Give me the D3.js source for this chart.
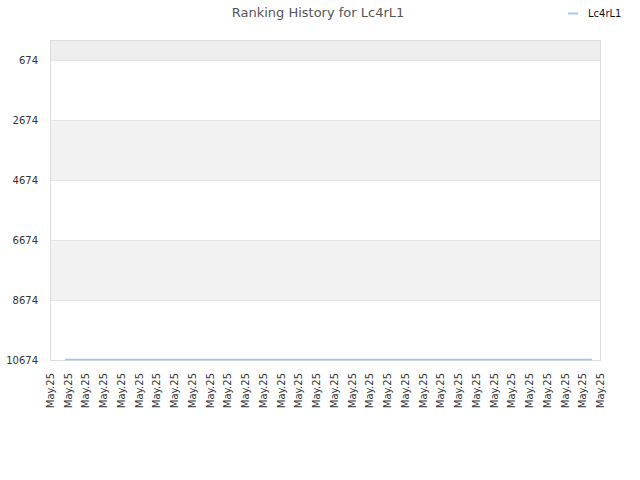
<!DOCTYPE html>
<html><head><meta charset="utf-8">
<script src="https://cdn.jsdelivr.net/npm/d3@7"></script>
<style>body{margin:0;background:#fff}svg{display:block}text{font-family:"DejaVu Sans",sans-serif}</style>
</head><body><svg id="c" width="640" height="480"></svg>
<script>
const title = "Ranking History for Lc4rL1";
const seriesName = "Lc4rL1";
const xLabels = Array.from({length: 32}, () => "May.25");
const yTicks = [674, 2674, 4674, 6674, 8674, 10674];
const pointPos = [0.85, 5, 10, 15, 20, 25, 30.55];
const pointRank = [10674, 10674, 10674, 10674, 10674, 10674, 10674];

const svg = d3.select("#c");
const L = 50, R = 600, T = 40, B = 360;
const x = d3.scaleLinear().domain([0, xLabels.length - 1]).range([L, R]);
const y = d3.scaleLinear().domain([7, 10674]).range([T, B]);

// background bands
const edges = [y.domain()[0], ...yTicks];
for (let i = 0; i < edges.length - 1; i++) {
  const fill = i === 0 ? "#eeeeee" : (i % 2 === 0 ? "#f2f2f2" : "#ffffff");
  svg.append("rect").attr("x", L).attr("y", y(edges[i])).attr("width", R - L)
    .attr("height", y(edges[i + 1]) - y(edges[i])).attr("fill", fill);
}
// grid lines
svg.append("g").selectAll("line").data(yTicks).join("line")
  .attr("x1", L).attr("x2", R).attr("y1", d => y(d) + 0.5).attr("y2", d => y(d) + 0.5)
  .attr("stroke", "#e4e4e4");
// frame
svg.append("rect").attr("x", L + 0.5).attr("y", T + 0.5).attr("width", R - L).attr("height", B - T)
  .attr("fill", "none").attr("stroke", "#dddddd");

// y axis labels
const yAxis = d3.axisLeft(y).tickValues(yTicks).tickSize(0).tickPadding(12).tickFormat(d => d);
const ga = svg.append("g").attr("transform", `translate(${L},0)`).call(yAxis);
ga.select(".domain").remove();
ga.selectAll("text").attr("font-size", 10).attr("fill", "#333").attr("font-family", "DejaVu Sans");

// x axis labels
const xAxis = d3.axisBottom(x).tickValues(d3.range(xLabels.length)).tickSize(0).tickFormat(i => xLabels[i]);
const gx = svg.append("g").attr("transform", `translate(0,${B})`).call(xAxis);
gx.select(".domain").remove();
gx.selectAll("text").attr("font-size", 10).attr("fill", "#333").attr("font-family", "DejaVu Sans")
  .attr("transform", "rotate(-90)").attr("text-anchor", "end").attr("dy", "0.35em").attr("x", -13).attr("y", 0);

// series line
const pts = pointPos.map((p, i) => [p, pointRank[i]]);
svg.append("path").datum(pts).attr("fill", "none").attr("stroke", "#a3c8f0").attr("stroke-width", 1.5)
  .attr("d", d3.line().x(d => x(d[0])).y(d => y(d[1]) - 0.5));

// title
svg.append("text").attr("x", 318).attr("y", 17).attr("text-anchor", "middle")
  .attr("font-size", 13).attr("fill", "#555").text(title);
// legend
svg.append("line").attr("x1", 568).attr("x2", 578).attr("y1", 13.5).attr("y2", 13.5)
  .attr("stroke", "#a3c8f0").attr("stroke-width", 2);
svg.append("text").attr("x", 588).attr("y", 16.5).attr("font-size", 10).attr("fill", "#111").text(seriesName);
</script></body></html>
